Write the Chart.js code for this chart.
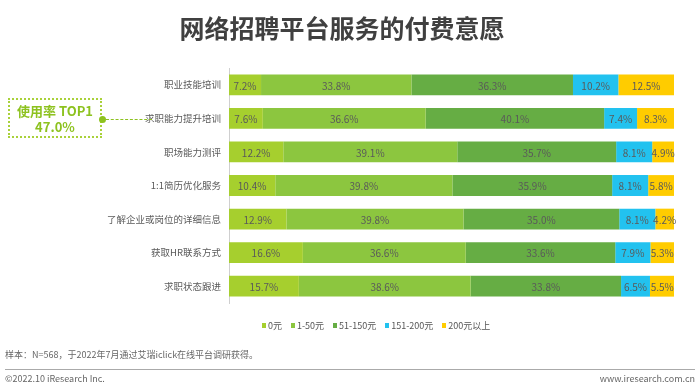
<!DOCTYPE html>
<html>
<head>
<meta charset="utf-8">
<script src="https://cdn.jsdelivr.net/npm/chart.js@4.4.1/dist/chart.umd.min.js"></script>
<style>
  body { margin:0; background:#fff; font-family:"Noto Sans CJK SC","Noto Sans",sans-serif; }
  #wrap { position:relative; width:700px; height:391px; overflow:hidden; }
  #chart { position:absolute; left:0; top:0; }
  .title { position:absolute; left:0; width:684px; top:9px; text-align:center; font-size:25px; font-weight:700; color:#404040; }
  .callout { position:absolute; left:8px; top:98px; width:94px; height:40px; border:2px dotted #a9d13a; color:#8dc21f; font-weight:700; font-size:13px; line-height:16px; text-align:center; padding-top:3px; box-sizing:border-box; }
  .dot { position:absolute; left:99px; top:116px; width:7px; height:7px; border-radius:50%; background:#8dc21f; }
  .dash { position:absolute; left:106px; top:119px; width:46px; border-top:1.5px dashed #8dc21f; }
  .legend { position:absolute; top:319px; left:262px; font-size:9px; color:#555; white-space:nowrap; }
  .legend span { margin-right:9px; }
  .legend i { display:inline-block; width:4px; height:5px; margin-right:2px; vertical-align:1px; }
  .note { position:absolute; left:5px; top:348px; font-size:9px; color:#666; }
  .rule { position:absolute; left:5px; right:5px; top:369px; border-top:1px solid #aaa; }
  .foot { position:absolute; top:372px; font-size:9px; color:#666; }
</style>
</head>
<body>
<div id="wrap">
  <canvas id="chart" width="700" height="391"></canvas>
  <div class="title">网络招聘平台服务的付费意愿</div>
  <div class="callout">使用率 TOP1<br>47.0%</div>
  <div class="dash"></div>
  <div class="dot"></div>
  <div class="legend" id="legend"></div>
  <div class="note">样本：N=568，于2022年7月通过艾瑞iclick在线平台调研获得。</div>
  <div class="rule"></div>
  <div class="foot" style="left:5px">©2022.10 iResearch Inc.</div>
  <div class="foot" style="right:5px">www.iresearch.com.cn</div>
</div>
<script>
const categories = ['职业技能培训', '求职能力提升培训', '职场能力测评', '1:1简历优化服务', '了解企业或岗位的详细信息', '获取HR联系方式', '求职状态跟进'];
const seriesNames = ['0元', '1-50元', '51-150元', '151-200元', '200元以上'];
const seriesColors = ['#a6cf2e', '#8cc63f', '#66ad44', '#22c2ef', '#ffcc00'];
const free = [7.2, 7.6, 12.2, 10.4, 12.9, 16.6, 15.7];
const yuan1to50 = [33.8, 36.6, 39.1, 39.8, 39.8, 36.6, 38.6];
const yuan51to150 = [36.3, 40.1, 35.7, 35.9, 35.0, 33.6, 33.8];
const yuan151to200 = [10.2, 7.4, 8.1, 8.1, 8.1, 7.9, 6.5];
const over200 = [12.5, 8.3, 4.9, 5.8, 4.2, 5.3, 5.5];
const seriesValues = [free, yuan1to50, yuan51to150, yuan151to200, over200];

// legend (html, positioned like the original)
document.getElementById('legend').innerHTML = seriesNames
  .map((n, i) => `<span><i style="background:${seriesColors[i]}"></i>${n}</span>`).join('');

// value labels inside each segment
const segLabels = {
  id: 'segLabels',
  afterDatasetsDraw(chart) {
    const ctx = chart.ctx;
    ctx.save();
    ctx.font = '10px "Noto Sans CJK SC", sans-serif';
    ctx.fillStyle = '#5a5a5a';
    ctx.textAlign = 'center';
    ctx.textBaseline = 'middle';
    chart.data.datasets.forEach((ds, di) => {
      chart.getDatasetMeta(di).data.forEach((bar, i) => {
        const x = (bar.x + bar.base) / 2;
        ctx.fillText(ds.data[i].toFixed(1) + '%', x, bar.y + 1);
      });
    });
    ctx.restore();
  }
};

new Chart(document.getElementById('chart'), {
  type: 'bar',
  data: {
    labels: categories,
    datasets: seriesNames.map((n, i) => ({
      label: n,
      data: seriesValues[i],
      backgroundColor: seriesColors[i],
      barPercentage: 0.62,
      categoryPercentage: 1
    }))
  },
  options: {
    indexAxis: 'y',
    responsive: false,
    animation: false,
    layout: { padding: { top: 68, right: 26, bottom: 88, left: 0 } },
    plugins: { legend: { display: false }, tooltip: { enabled: false } },
    scales: {
      x: { stacked: true, display: false, min: 0, max: 100 },
      y: {
        stacked: true,
        afterFit: s => { s.width = 229; },
        grid: { display: true, drawOnChartArea: false, drawTicks: false, color: 'transparent' },
        border: { display: true, color: '#cfcfcf', width: 1 },
        ticks: { color: '#5a5a5a', padding: 8, font: { size: 9.5, family: '"Noto Sans CJK SC", sans-serif' } }
      }
    }
  },
  plugins: [segLabels]
});
</script>
</body>
</html>
